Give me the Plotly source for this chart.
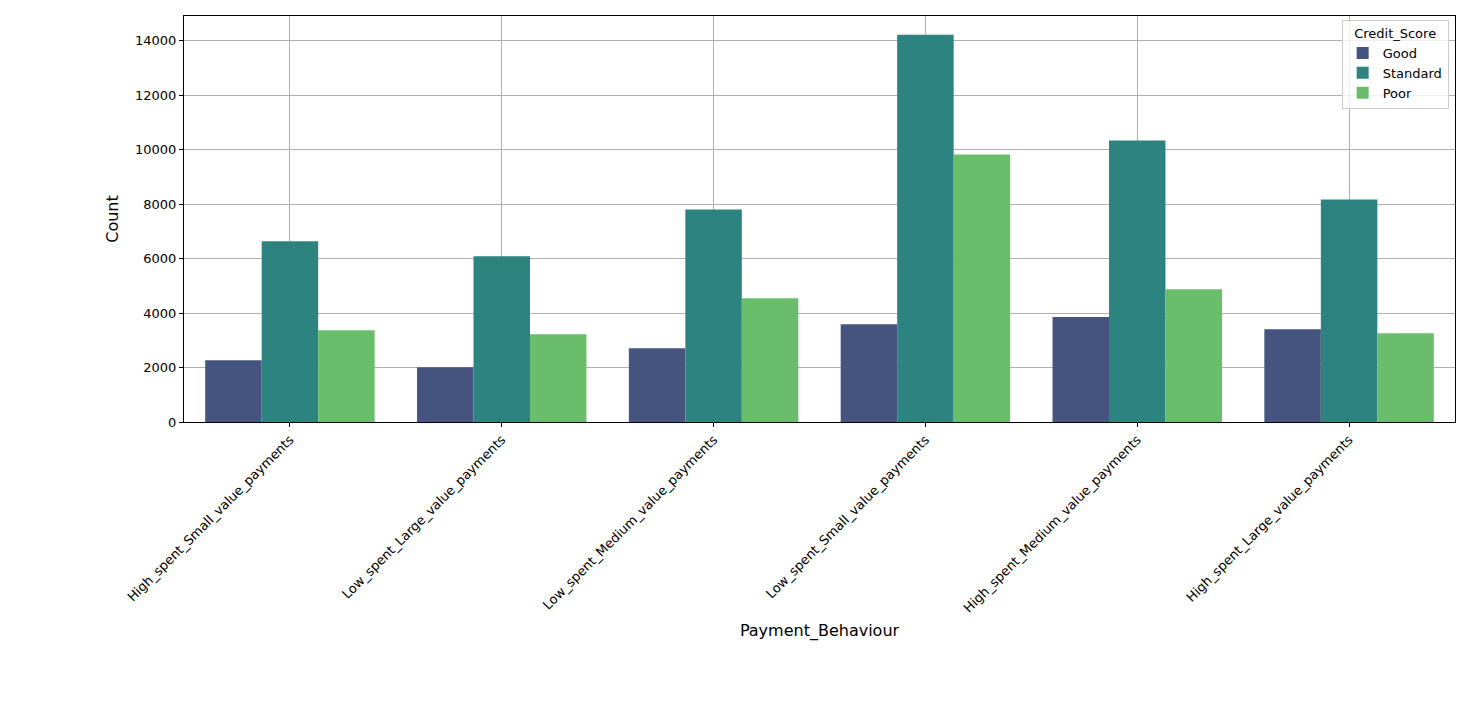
import plotly.graph_objects as go

categories = ['High_spent_Small_value_payments', 'Low_spent_Large_value_payments',
              'Low_spent_Medium_value_payments', 'Low_spent_Small_value_payments',
              'High_spent_Medium_value_payments', 'High_spent_Large_value_payments']
good = [2270, 2010, 2710, 3590, 3850, 3400]
standard = [6630, 6080, 7800, 14210, 10330, 8170]
poor = [3370, 3220, 4540, 9820, 4870, 3260]

series = [('Good', good, '#45557f'), ('Standard', standard, '#2d837f'), ('Poor', poor, '#6abd6b')]

fig = go.Figure()
for name, vals, color in series:
    fig.add_trace(go.Bar(x=categories, y=vals, name=name, marker_color=color, marker_line_width=0))

axis_style = dict(showline=True, linecolor='black', linewidth=1, mirror=True,
                  showgrid=True, gridcolor='#b0b0b0', ticks='outside', ticklen=4,
                  tickcolor='black', zeroline=False, automargin=False)
fig.update_layout(
    width=1483, height=708, barmode='group', bargap=0.2, bargroupgap=0,
    plot_bgcolor='white', paper_bgcolor='white',
    margin=dict(l=176, r=36, t=8, b=294, autoexpand=False),
    font=dict(family='DejaVu Sans', size=13, color='black'),
    xaxis=dict(title=dict(text='Payment_Behaviour', standoff=10), tickangle=-45, **axis_style),
    yaxis=dict(title=dict(text='Count', standoff=12), range=[0, 14900], dtick=2000,
               tickformat='d', **axis_style),
    legend=dict(title=dict(text='Credit_Score', side='top center', font=dict(size=13)),
                x=0.995, y=0.99, xanchor='right', yanchor='top', bordercolor='#cccccc',
                borderwidth=1, bgcolor='rgba(255,255,255,0.8)', font=dict(size=13)),
)
fig.write_html("out.html")
